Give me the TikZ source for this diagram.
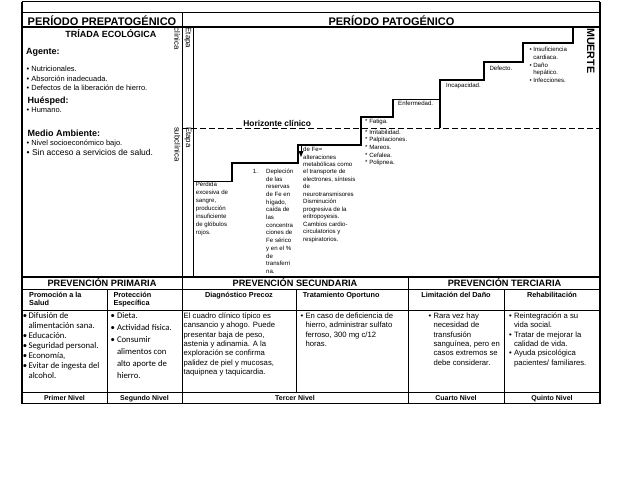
\documentclass[tikz,border=0pt]{standalone}
\usepackage{fontspec}
\setmainfont{Liberation Sans}
\newfontfamily\calibri{Carlito}
\usetikzlibrary{arrows.meta}

\begin{document}
\begin{tikzpicture}[x=1pt,y=-1pt,
    borde/.style={line width=1.5pt},
    linea/.style={line width=0.9pt},
    escalera/.style={line width=1.6pt},
    titulo/.style={inner sep=0pt,anchor=base,font=\bfseries\fontsize{11}{13}\selectfont},
    prev/.style={inner sep=0pt,anchor=base,font=\bfseries\fontsize{9.2}{11}\selectfont},
    encab/.style={inner sep=0pt,anchor=base west,align=left,font=\bfseries\fontsize{7.3}{8.3}\selectfont},
    factor/.style={inner sep=0pt,anchor=base west,font=\bfseries\fontsize{9}{11}\selectfont},
    lista/.style={inner sep=0pt,anchor=base west,align=left,font=\fontsize{7.5}{9.5}\selectfont},
    paso/.style={inner sep=0pt,anchor=base west,align=left,font=\fontsize{6.1}{7.7}\selectfont},
    etapa/.style={inner sep=0pt,anchor=west,rotate=-90,align=left,font=\fontsize{7.8}{11.5}\selectfont},
    cuerpo/.style={inner sep=0pt,anchor=base west,align=left,font=\fontsize{7.7}{9.4}\selectfont},
    nivel/.style={inner sep=0pt,anchor=base,font=\bfseries\fontsize{7}{8}\selectfont}]
\useasboundingbox (0,0) rectangle (621,480);

\draw[borde] (22,1.5) -- (600,1.5);
\draw[borde] (22,1.5) -- (22,403.5) -- (600,403.5) -- (600,1.5);
\draw[linea] (22,12.5) -- (600,12.5);
\draw[line width=1.2pt] (22,27) -- (600,27);
\draw[linea] (182,12.5) -- (182,403.5);
\draw[linea] (193,27) -- (193,277);
\draw[line width=1.2pt] (22,277) -- (600,277);
\draw[linea] (22,289) -- (600,289);
\draw[linea] (22,310) -- (600,310);
\draw[linea] (22,392) -- (600,392);
\draw[linea] (107,289) -- (107,403.5);
\draw[linea] (296,289) -- (296,392);
\draw[linea] (408,277) -- (408,403.5);
\draw[linea] (504,289) -- (504,403.5);
\draw[linea,dash pattern=on 6pt off 3pt] (182,128) -- (600,128);

\draw[escalera] (193,181.5) -- (232,181.5) -- (232,163) -- (298,163) -- (298,145) -- (361,145) -- (361,117) -- (393,117) -- (393,99.5) -- (440,99.5);
\draw[escalera] (440,128) -- (440,80) -- (484,80) -- (484,62) -- (523,62) -- (523,43) -- (573,43) -- (573,27);
\draw[line width=0.8pt] (301,146) -- (301,151);
\fill (298.5,151) -- (303.5,151) -- (301,157) -- cycle;

\node[titulo] at (102,25) (prepat) {PERÍODO PREPATOGÉNICO};
\node[titulo] at (391.5,25) (pat) {PERÍODO PATOGÉNICO};
\node[inner sep=0pt,anchor=base,font=\bfseries\fontsize{9}{11}\selectfont] at (110.8,37.3) (triada) {TRÍADA ECOLÓGICA};
\node[factor] at (26,54.5) (agente) {Agente:};
\node[lista] at (26.5,90.5) (agentes) {• Nutricionales.\\• Absorción inadecuada.\\• Defectos de la liberación de hierro.};
\node[factor] at (27.5,103.3) (huesped) {Huésped:};
\node[lista] at (26.5,112.5) (humano) {• Humano.};
\node[factor] at (27.5,136) (medio) {Medio Ambiente:};
\node[lista] at (26.5,145) (socio) {• Nivel socioeconómico bajo.};
\node[lista,font=\fontsize{8.5}{10}\selectfont] at (26.5,155.7) (acceso) {• Sin acceso a servicios de salud.};

\node[etapa] at (182.7,27.5) (clinica) {Etapa\\clínica};
\node[etapa] at (183,126.8) (subclinica) {Etapa\\subclínica};
\node[inner sep=0pt,anchor=base,font=\bfseries\fontsize{8.4}{10}\selectfont] at (277.2,126) (horizonte) {Horizonte clínico};
\node[inner sep=0pt,anchor=west,rotate=-90,font=\bfseries\fontsize{10.7}{12}\selectfont] at (590.8,28) (muerte) {MUERTE};

\node[paso,font=\fontsize{6.1}{8}\selectfont] at (195.7,234.6) (perdida) {Pérdida\\excesiva de\\sangre,\\producción\\insuficiente\\de glóbulos\\rojos.};
\node[paso] at (252.7,173.3) (uno) {1.};
\node[paso] at (266,273.4) (deplecion) {Depleción\\de las\\reservas\\de Fe en\\hígado,\\caída de\\las\\concentra\\ciones de\\Fe sérico\\y en el \%\\de\\transferri\\na.};
\node[paso,font=\fontsize{6.1}{7.45}\selectfont] at (303,241) (alteracion) {de Fe=\\alteraciones\\metabólicas como\\el transporte de\\electrones, síntesis\\de\\neurotransmisores\\Disminución\\progresiva de la\\eritropoyesis.\\Cambios cardio-\\circulatorios y\\respiratorios.};
\node[paso] at (365,123.3) (fatiga) {* Fatiga.};
\node[paso] at (365,164.8) (sintomas) {* Irritabilidad.\\* Palpitaciones.\\* Mareos.\\* Cefalea.\\* Polipnea.};
\node[paso] at (398,105.6) (enfermedad) {Enfermedad.};
\node[paso] at (446,87.6) (incapacidad) {Incapacidad.};
\node[paso] at (489.3,70.3) (defecto) {Defecto.};
\node[paso] at (529.3,82.4) (complicacion) {• Insuficiencia\\\phantom{• }cardiaca.\\• Daño\\\phantom{• }hepático.\\• Infecciones.};

\node[prev] at (102,286.7) (primaria) {PREVENCIÓN PRIMARIA};
\node[prev] at (295,286.7) (secundaria) {PREVENCIÓN SECUNDARIA};
\node[prev] at (504.5,286.7) (terciaria) {PREVENCIÓN TERCIARIA};

\node[encab] at (29,305.8) (promocion) {Promoción a la\\Salud};
\node[encab] at (113.3,305.8) (proteccion) {Protección\\Específica};
\node[encab,anchor=base] at (239,297.5) (diagnostico) {Diagnóstico Precoz};
\node[encab] at (302.7,297.5) (tratamiento) {Tratamiento Oportuno};
\node[encab,anchor=base] at (456,297.5) (limitacion) {Limitación del Daño};
\node[encab,anchor=base] at (552,297.5) (rehabilitacion) {Rehabilitación};

\node[cuerpo,font=\calibri\fontsize{8.7}{10}\selectfont] at (22.6,378.5) (difusion) {•\,Difusión de\\\hphantom{•\,}alimentación sana.\\•\,Educación.\\•\,Seguridad personal.\\•\,Economía,\\•\,Evitar de ingesta del\\\hphantom{•\,}alcohol.};
\node[cuerpo,font=\calibri\fontsize{8.7}{12}\selectfont] at (110.5,378.5) (dieta) {• Dieta.\\• Actividad física.\\• Consumir\\\hphantom{• }alimentos con\\\hphantom{• }alto aporte de\\\hphantom{• }hierro.};
\node[cuerpo] at (183.5,374.7) (cuadro) {El cuadro clínico típico es\\cansancio y ahogo. Puede\\presentar baja de peso,\\astenia y adinamia. A la\\exploración se confirma\\palidez de piel y mucosas,\\taquipnea y taquicardia.};
\node[cuerpo] at (300.5,346.5) (hierro) {• En caso de deficiencia de\\\phantom{• }hierro, administrar sulfato\\\phantom{• }ferroso, 300 mg c/12\\\phantom{• }horas.};
\node[cuerpo] at (428.5,365.3) (transfusion) {• Rara vez hay\\\phantom{• }necesidad de\\\phantom{• }transfusión\\\phantom{• }sanguínea, pero en\\\phantom{• }casos extremos se\\\phantom{• }debe considerar.};
\node[cuerpo] at (509,365.3) (reintegracion) {• Reintegración a su\\\phantom{• }vida social.\\• Tratar de mejorar la\\\phantom{• }calidad de vida.\\• Ayuda psicológica\\\phantom{• }pacientes/ familiares.};

\node[nivel] at (64.5,400.5) (primer) {Primer Nivel};
\node[nivel] at (144.5,400.5) (segundo) {Segundo Nivel};
\node[nivel] at (295,400.5) (tercer) {Tercer Nivel};
\node[nivel] at (456,400.5) (cuarto) {Cuarto Nivel};
\node[nivel] at (552,400.5) (quinto) {Quinto Nivel};
\end{tikzpicture}
\end{document}
